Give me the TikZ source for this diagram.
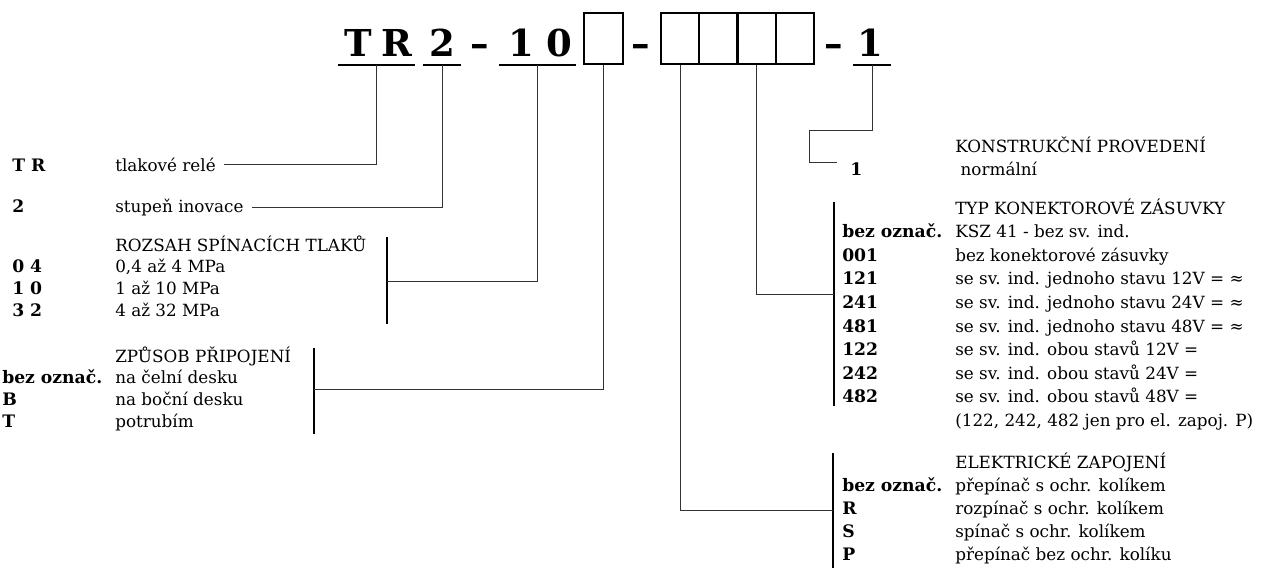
\documentclass[tikz,border=0pt]{standalone}
\usepackage{fontspec}
\setmainfont{DejaVu Serif}
\begin{document}
\begin{tikzpicture}[x=0.75pt,y=-0.75pt,
    txt/.style={anchor=base west, inner sep=0pt, font=\fontsize{12.6}{14}\selectfont},
    code/.style={txt, font=\fontsize{12.9}{14}\selectfont\bfseries},
    big/.style={anchor=base, inner sep=0pt, font=\fontsize{27.8}{30}\selectfont\bfseries},
    codebox/.style={draw, line width=1.5pt, minimum width=28.7pt, minimum height=38.25pt, anchor=south, inner sep=0pt},
    uline/.style={line width=1.5pt},
    bar/.style={line width=1.5pt},
    conn/.style={line width=0.75pt, black!80}]
  \useasboundingbox (0,0) rectangle (1265,568);

  % type code in the header
  \node[big] (hT) at (358,56) {T};
  \node[big] (hR) at (397,56) {R};
  \node[big] (h2) at (442,56) {2};
  \node[big] (hd1) at (480,56) {–};
  \node[big] (h1) at (521,56) {1};
  \node[big] (h0) at (559,56) {0};
  \node[big] (hd2) at (641,56) {–};
  \node[big] (hd3) at (834,56) {–};
  \node[big] (hOne) at (870,56) {1};
  \draw[uline] (338,65) -- coordinate (uTR) (415,65);
  \draw[uline] (423,65) -- coordinate (u2) (461,65);
  \draw[uline] (499,65) -- coordinate (u10) (576,65);
  \draw[uline] (853,65) -- coordinate (uOne) (891,65);
  \node[codebox, minimum width=29.25pt] (bx0) at (603.5,65) {};
  \foreach \i in {1,...,4}
    \node[codebox] (bx\i) at ({661+38.25*(\i-0.5)},65) {};

  % left column
  \node[code] (cTR) at (12,171) {T R};
  \node[txt] (tTR) at (115,171) {tlakové relé};
  \node[code] (c2) at (12,212) {2};
  \node[txt] (t2) at (115,212) {stupeň inovace};

  \node[txt] (rozH) at (115,251) {ROZSAH SPÍNACÍCH TLAKŮ};
  \foreach \c/\d [count=\i] in {{0 4}/{0,4 až 4 MPa}, {1 0}/{1 až 10 MPa}, {3 2}/{4 až 32 MPa}} {
    \node[code] (rozc\i) at (12,{251+21.7*\i}) {\c};
    \node[txt] (rozt\i) at (115,{251+21.7*\i}) {\d};
  }
  \draw[bar] (387,237) -- (387,324);
  \coordinate (rozJ) at (387,281);

  \node[txt] (zpH) at (115,362) {ZPŮSOB PŘIPOJENÍ};
  \foreach \c/\d [count=\i] in {{bez označ.}/{na čelní desku}, B/{na boční desku}, T/potrubím} {
    \node[code] (zpc\i) at (2,{362+21.7*\i}) {\c};
    \node[txt] (zpt\i) at (115,{362+21.7*\i}) {\d};
  }
  \draw[bar] (314,348) -- (314,434);
  \coordinate (zpJ) at (314,389);

  % right column
  \node[txt] (koH) at (955,152) {KONSTRUKČNÍ PROVEDENÍ};
  \node[code] (ko1) at (850,175) {1};
  \node[txt] (kot1) at (955,175) {\ normální};
  \coordinate (koA) at (809,130);
  \coordinate (koB) at (837,162);

  \node[txt] (tyH) at (955,214) {TYP KONEKTOROVÉ ZÁSUVKY};
  \foreach \c/\d [count=\i] in {{bez označ.}/{KSZ 41 - bez sv. ind.}, 001/{bez konektorové zásuvky},
      121/{se sv. ind. jednoho stavu 12V = ≈}, 241/{se sv. ind. jednoho stavu 24V = ≈},
      481/{se sv. ind. jednoho stavu 48V = ≈}, 122/{se sv. ind. obou stavů 12V =},
      242/{se sv. ind. obou stavů 24V =}, 482/{se sv. ind. obou stavů 48V =},
      {}/{(122, 242, 482 jen pro el. zapoj. P)}} {
    \node[code] (tyc\i) at (842,{214+23.6*\i}) {\c};
    \node[txt] (tyt\i) at (955,{214+23.6*\i}) {\d};
  }
  \draw[bar] (834,202) -- (834,406);
  \coordinate (tyJ) at (834,294);

  \node[txt] (elH) at (955,468) {ELEKTRICKÉ ZAPOJENÍ};
  \foreach \c/\d [count=\i] in {{bez označ.}/{přepínač s ochr. kolíkem}, R/{rozpínač s ochr. kolíkem},
      S/{spínač s ochr. kolíkem}, P/{přepínač bez ochr. kolíku}} {
    \node[code] (elc\i) at (842,{468+23*\i}) {\c};
    \node[txt] (elt\i) at (955,{468+23*\i}) {\d};
  }
  \draw[bar] (833,453) -- (833,568);
  \coordinate (elJ) at (833,510);

  % connectors
  \draw[conn] (uTR) |- ([xshift=6pt]tTR.east);
  \draw[conn] (u2) |- ([xshift=6pt]t2.east);
  \draw[conn] (u10) |- (rozJ);
  \draw[conn] (bx0.south) |- (zpJ);
  \draw[conn] (bx1.south) |- (elJ);
  \draw[conn] (bx3.south) |- (tyJ);
  \draw[conn] (uOne) |- (koA) |- (koB);
\end{tikzpicture}
\end{document}
